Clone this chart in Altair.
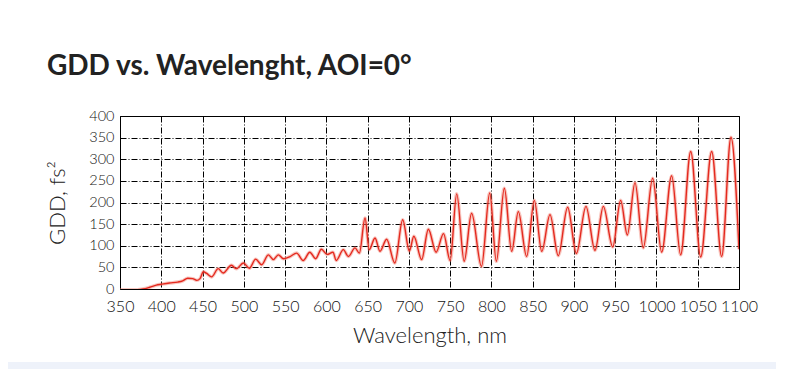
import altair as alt
import pandas as pd

# Wavelength (nm) and GDD (fs^2) (peaks, troughs, shoulders)
wavelength = [350, 365, 378, 386, 394, 400, 410, 420, 426, 432, 438, 443, 447, 451, 455, 461,
              469, 475, 485, 491, 499.5, 506.7, 514.4, 521.7, 529.7, 535.8, 541.9, 548, 556,
              564, 572, 580, 587, 594, 601, 608, 612, 620.6, 626.7, 634.7, 640, 646.9, 652,
              659, 665, 673, 683, 692.5, 700.6, 706, 715.5, 723.6, 733, 742, 750, 758, 767,
              776, 788, 798, 806, 815.7, 824.6, 832.6, 842.7, 852, 861, 871, 881, 892.4, 903,
              914.6, 925.5, 935.6, 947, 956.6, 964.7, 974, 984, 995.4, 1006.3, 1018.4, 1029.3,
              1041.5, 1053.6, 1066.9, 1079, 1090.3, 1100]
gdd = [-2, -2, 0, 4, 9, 11, 14, 16, 19, 25, 24, 20, 24, 40, 36, 28,
       47, 37, 55, 47, 60, 48, 69, 56, 79, 68, 79, 70, 75,
       83, 66, 85, 70, 92, 80, 85, 66, 91, 75, 95, 83, 164, 91,
       118, 87, 115, 60, 160, 88, 122, 68, 138, 85, 128, 66, 220, 64,
       175, 52, 222, 64, 233, 87, 179, 75, 205, 87, 172, 77, 189, 82,
       191, 89, 191, 97, 205, 125, 246, 95, 256, 85, 262, 79,
       318, 74, 318, 75, 351, 92]

x_ticks = list(range(350, 1101, 50))
y_ticks = list(range(0, 401, 50))

df = pd.DataFrame({"wl": wavelength, "gdd": gdd})

LFONT = "Lato"
TFONT = "Lato"

common = dict(grid=True, titleFontSize=22, titleFontWeight=300,
              labelFontWeight=300, ticks=False, domain=False, labelOverlap=False, format="d",
              labelFlush=False, labelBound=False,
              labelFont=LFONT, titleFont=LFONT, labelColor="#111", titleColor="#222",
              gridColor="#000", gridDash=[6, 2, 1, 2], gridOpacity=1, gridWidth=1)

x_enc = alt.X("wl:Q", scale=alt.Scale(domain=[350, 1100], nice=False, zero=False),
              axis=alt.Axis(values=x_ticks, title="Wavelength, nm", labelFontSize=16,
                            labelPadding=9, titlePadding=11, **common))
y_enc = alt.Y("gdd:Q", scale=alt.Scale(domain=[0, 400], nice=False, zero=False),
              axis=alt.Axis(values=y_ticks, title="GDD, fs²", labelFontSize=14.5,
                            labelPadding=6, titlePadding=19, **common))

halo = alt.Chart(df).mark_line(color="#f08070", strokeWidth=3.5, opacity=0.45,
                               interpolate="monotone", clip=True).encode(x=x_enc, y=y_enc)
line = alt.Chart(df).mark_line(color="#e4291f", strokeWidth=1.4,
                               interpolate="monotone", clip=True).encode(x=x_enc, y=y_enc)

band = alt.Chart(df).mark_rect(color="#eef2fa", clip=False).encode(
    x=alt.value(-120), x2=alt.value(700), y=alt.value(246), y2=alt.value(264))

chart = alt.layer(band, halo, line).properties(
    width=619, height=173,
    padding={"left": 112, "top": 108, "right": 37, "bottom": 80},
    autosize=alt.AutoSizeParams(type="none"),
    title=alt.TitleParams("GDD vs. Wavelenght, AOI=0°", anchor="start", frame="group",
                          dx=-73, offset=27, fontSize=28, fontWeight="bold",
                          font=TFONT, color="#222"),
    background="white",
).configure_view(stroke="#000", strokeWidth=1)

chart.save("out.html", embed_options={"renderer": "svg", "actions": False})
